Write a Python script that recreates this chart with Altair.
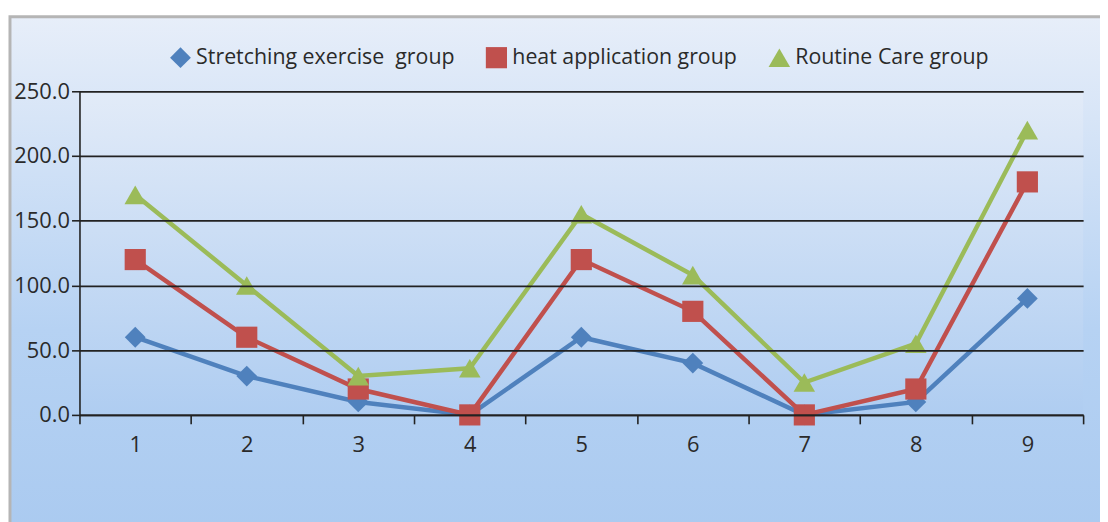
import altair as alt
import pandas as pd

categories = ["1", "2", "3", "4", "5", "6", "7", "8", "9"]
stretching = [60, 30, 10, 0, 60, 40, 0, 10, 90]
heat = [120, 60, 20, 0, 120, 80, 0, 20, 180]
routine = [170, 100, 30, 36, 155, 108, 25, 55, 220]
series_names = ["Stretching exercise \u00a0group", "heat application group", "Routine Care group"]
colors = ["#4F81BD", "#C0504D", "#9BBB59"]
shapes = ["diamond", "square", "triangle-up"]
sizes = [440, 470, 480]
y_ticks = [0, 50, 100, 150, 200, 250]

rows = []
for name, vals in zip(series_names, [stretching, heat, routine]):
    for c, v in zip(categories, vals):
        rows.append({"cat": c, "value": v, "series": name})
df = pd.DataFrame(rows)

W, H = 1011, 326
FONT = "Open Sans"

one = pd.DataFrame({"a": [0]})

frame = alt.Chart(one).mark_rect(
    fill=alt.Gradient(
        gradient="linear",
        stops=[alt.GradientStop(color="#E7EEF9", offset=0),
               alt.GradientStop(color="#B6D2F3", offset=0.6),
               alt.GradientStop(color="#AACAF0", offset=1)],
        x1=0, x2=0, y1=0, y2=1),
    stroke="#B5B5B5", strokeWidth=3,
).encode(x=alt.value(-70), x2=alt.value(1045), y=alt.value(-75), y2=alt.value(450))

plotbg = alt.Chart(one).mark_rect(
    fill=alt.Gradient(
        gradient="linear",
        stops=[alt.GradientStop(color="#E2EBF8", offset=0),
               alt.GradientStop(color="#AFCDF1", offset=1)],
        x1=0, x2=0, y1=0, y2=1),
).encode(x=alt.value(0), x2=alt.value(W), y=alt.value(0), y2=alt.value(H))

xenc = alt.X("cat:N", sort=categories, title=None,
             scale=alt.Scale(paddingInner=0, paddingOuter=0),
             axis=alt.Axis(labelAngle=0, tickBand="extent", tickSize=9,
                           tickColor="#222222", domainColor="#222222",
                           domainWidth=1.6, tickWidth=1.6, zindex=1,
                           labelFontSize=22, labelFont=FONT, labelColor="#2A2A2A",
                           labelPadding=11, grid=False))
yenc = alt.Y("value:Q", title=None,
             scale=alt.Scale(domain=[0, 250], nice=False),
             axis=alt.Axis(values=y_ticks, format=".1f", tickSize=8,
                           tickColor="#222222", domainColor="#222222",
                           domainWidth=1.6, tickWidth=1.6, zindex=1,
                           grid=True, gridColor="#222222", gridWidth=1.8,
                           labelFontSize=22, labelFont=FONT, labelColor="#2A2A2A",
                           labelPadding=2))

legend = alt.Legend(title=None, orient="none", legendX=91, legendY=-45,
                    direction="horizontal", labelFontSize=21.5, labelFont=FONT,
                    labelColor="#2A2A2A", symbolSize=240, columnPadding=31,
                    labelOffset=5, symbolStrokeWidth=0, labelLimit=500)

color = alt.Color("series:N", sort=series_names,
                  scale=alt.Scale(domain=series_names, range=colors), legend=legend)
shape = alt.Shape("series:N", sort=series_names,
                  scale=alt.Scale(domain=series_names, range=shapes), legend=legend)

lines = alt.Chart(df).mark_line(strokeWidth=4.5).encode(
    x=xenc, y=yenc, color=color, detail="series:N")

points = alt.Chart(df).mark_point(filled=True, opacity=1).encode(
    x=xenc, y=yenc, color=color, shape=shape,
    size=alt.Size("series:N", scale=alt.Scale(domain=series_names, range=sizes), legend=None))

chart = alt.layer(frame, plotbg, lines, points).properties(
    width=W, height=H,
    padding={"left": 72, "top": 82, "right": 17, "bottom": 106},
    autosize="none",
).configure_view(stroke=None).configure(background="white")

chart.save("out.html", embed_options={"renderer": "svg", "actions": False})
